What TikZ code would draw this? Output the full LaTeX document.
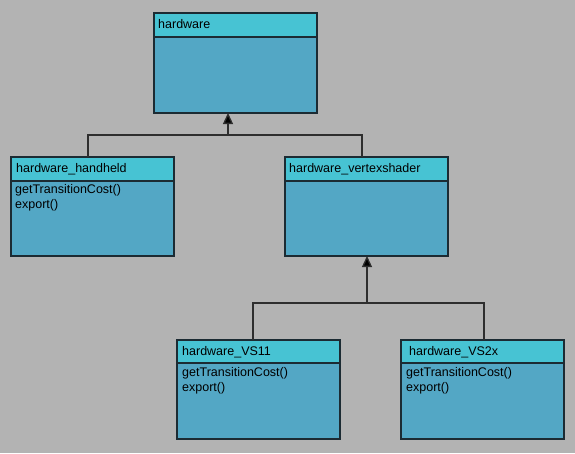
\documentclass[tikz,border=0pt]{standalone}
\usepackage{fontspec}
\setmainfont{Liberation Sans}
\usetikzlibrary{arrows.meta,calc}
\definecolor{bgc}{HTML}{B3B3B3}
\definecolor{headc}{HTML}{47C3D3}
\definecolor{bodyc}{HTML}{53A7C5}
\definecolor{edgec}{HTML}{1C2B33}
\definecolor{linec}{HTML}{2E2E2E}
\tikzset{
  classbox/.style={draw=edgec, line width=1.4pt, fill=bodyc, rectangle, anchor=north west,
    minimum width=163pt, minimum height=100pt, inner sep=0pt, outer sep=0pt},
  headbar/.style={fill=headc},
  divider/.style={draw=edgec, line width=1.1pt},
  ctext/.style={anchor=base west, inner sep=0pt, font=\fontsize{12.5pt}{15pt}\selectfont, text=black},
  conn/.style={draw=linec, line width=1.3pt},
  inh/.style={conn, -{Triangle[length=11pt,width=10pt,fill=black]}}
}
\newcommand{\classhead}[2]{%
  \fill[headbar] (#1.north west) rectangle ($(#1.north east)+(0,#2)$);
  \draw[divider] ($(#1.north west)+(0,#2)$) -- ($(#1.north east)+(0,#2)$);
  \draw[draw=edgec, line width=1.4pt] (#1.north west) rectangle (#1.south east);
}
\begin{document}
\begin{tikzpicture}[x=1pt,y=-1pt]
\fill[bgc] (0,0) rectangle (575,453);
\useasboundingbox (0,0) rectangle (575,453);

% boxes
\node[classbox] (hw) at (154,13) {};
\node[classbox, minimum height=99pt] (hh) at (11,157) {};
\node[classbox, minimum height=99pt] (vs) at (285,157) {};
\node[classbox, minimum height=99pt] (v11) at (177,340) {};
\node[classbox, minimum height=99pt] (v2x) at (401,340) {};

\classhead{hw}{24}
\classhead{hh}{24}
\classhead{vs}{24}
\classhead{v11}{23}
\classhead{v2x}{23}

% texts
\node[ctext] (hwn) at ($(hw.north west)+(4,15)$) {hardware};
\node[ctext] (hhn) at ($(hh.north west)+(5,15)$) {hardware\_handheld};
\node[ctext] (hhm1) at ($(hh.north west)+(4,36)$) {getTransitionCost()};
\node[ctext] (hhm2) at ($(hh.north west)+(4,51)$) {export()};
\node[ctext] (vsn) at ($(vs.north west)+(4,15)$) {hardware\_vertexshader};
\node[ctext] (v11n) at ($(v11.north west)+(5,15)$) {hardware\_VS11};
\node[ctext] (v11m1) at ($(v11.north west)+(5,36)$) {getTransitionCost()};
\node[ctext] (v11m2) at ($(v11.north west)+(5,51)$) {export()};
\node[ctext] (v2xn) at ($(v2x.north west)+(8,15)$) {hardware\_VS2x};
\node[ctext] (v2xm1) at ($(v2x.north west)+(5,36)$) {getTransitionCost()};
\node[ctext] (v2xm2) at ($(v2x.north west)+(5,51)$) {export()};

% connectors
\coordinate (j1) at (228,135);
\coordinate (j2) at (367,303);
\draw[conn] ([xshift=-4.5pt]hh.north) |- (j1) -| ([xshift=-4.5pt]vs.north);
\draw[inh] (j1) -- (j1 |- hw.south);
\draw[conn] ([xshift=-5.5pt]v11.north) |- (j2) -| ([xshift=1.5pt]v2x.north);
\draw[inh] (j2) -- (j2 |- vs.south);
\end{tikzpicture}
\end{document}
